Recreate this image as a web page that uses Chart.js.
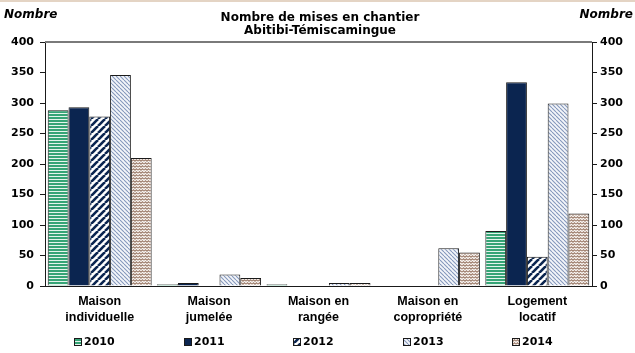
<!DOCTYPE html>
<html>
<head>
<meta charset="utf-8">
<script src="https://cdn.jsdelivr.net/npm/chart.js@4/dist/chart.umd.min.js"></script>
<style>
  html, body { margin: 0; padding: 0; background: #fff; }
  #wrap { position: relative; width: 635px; height: 353px; }
  #topline { position: absolute; left: 0; top: 0; width: 635px; height: 2px; background: #e4d4c4; }
</style>
</head>
<body>
<div id="wrap">
  <canvas id="c" width="635" height="353"></canvas>
  <div id="topline"></div>
</div>
<script>
// Housing starts by type, Abitibi-Témiscamingue
const categories = [
  ['Maison', 'individuelle'],
  ['Maison', 'jumelée'],
  ['Maison en', 'rangée'],
  ['Maison en', 'copropriété'],
  ['Logement', 'locatif']
];
const years = ['2010', '2011', '2012', '2013', '2014'];
const starts2010 = [288, 3, 3, 0, 90];
const starts2011 = [293, 5, 0, 0, 334];
const starts2012 = [278, 1, 0, 0, 48];
const starts2013 = [346, 19, 5, 62, 299];
const starts2014 = [210, 13, 5, 55, 119];
const yTicks = [0, 50, 100, 150, 200, 250, 300, 350, 400];
const titleLines = ['Nombre de mises en chantier', 'Abitibi-Témiscamingue'];
const unitLabel = 'Nombre';

const FONT = '"DejaVu Sans", Verdana, sans-serif';
const LABEL_FONT = '"Liberation Sans", Arial, sans-serif';

function makePattern(w, h, draw) {
  const pc = document.createElement('canvas');
  pc.width = w; pc.height = h;
  const g = pc.getContext('2d');
  draw(g, w, h);
  return document.getElementById('c').getContext('2d').createPattern(pc, 'repeat');
}

// horizontal green stripes
const fill2010 = makePattern(4, 3, (g, w, h) => {
  g.fillStyle = '#e4f4ec'; g.fillRect(0, 0, w, h);
  g.fillStyle = '#35a476'; g.fillRect(0, 0, w, 2);
});
// solid navy
const fill2011 = '#0b2550';
// wide forward diagonal stripes
const fill2012 = makePattern(7, 7, (g, w, h) => {
  g.fillStyle = '#ffffff'; g.fillRect(0, 0, w, h);
  g.strokeStyle = '#0b2550'; g.lineWidth = 2.6;
  for (let k = -1; k <= 1; k++) {
    g.beginPath(); g.moveTo(k * w, h); g.lineTo(k * w + w, 0); g.stroke();
  }
});
// fine backward diagonal stripes
const fill2013 = makePattern(4, 4, (g, w, h) => {
  g.fillStyle = '#f4f6fa'; g.fillRect(0, 0, w, h);
  g.strokeStyle = '#8497bb'; g.lineWidth = 1.1;
  for (let k = -1; k <= 1; k++) {
    g.beginPath(); g.moveTo(k * w, 0); g.lineTo(k * w + w, h); g.stroke();
  }
});
// zigzag
const fill2014 = makePattern(6, 3, (g, w, h) => {
  g.fillStyle = '#fbf8f6'; g.fillRect(0, 0, w, h);
  g.strokeStyle = '#9c7c6a'; g.lineWidth = 1.1;
  g.beginPath(); g.moveTo(0, 2.2); g.lineTo(1.5, 0.8); g.lineTo(3, 2.2); g.lineTo(4.5, 0.8); g.lineTo(6, 2.2); g.stroke();
});

const fills = [fill2010, fill2011, fill2012, fill2013, fill2014];
const seriesValues = [starts2010, starts2011, starts2012, starts2013, starts2014];

const datasets = years.map((y, i) => ({
  label: y,
  data: seriesValues[i],
  backgroundColor: fills[i],
  borderColor: '#1a1a1a',
  borderWidth: 1,
  borderSkipped: 'bottom',
  barPercentage: 1.0,
  categoryPercentage: 0.95
}));

const decorations = {
  id: 'decorations',
  afterDraw(chart) {
    const ctx = chart.ctx;
    const a = chart.chartArea;
    ctx.save();
    // top frame line
    ctx.strokeStyle = '#7a7a7a'; ctx.lineWidth = 2;
    ctx.beginPath(); ctx.moveTo(a.left, a.top); ctx.lineTo(a.right, a.top); ctx.stroke();

    // title
    ctx.fillStyle = '#000';
    ctx.font = 'bold 12px ' + FONT;
    ctx.textAlign = 'center'; ctx.textBaseline = 'middle';
    const cx = 320;
    ctx.fillText(titleLines[0], cx, 18);
    ctx.fillText(titleLines[1], cx, 31);

    // unit labels
    ctx.font = 'italic bold 12px ' + FONT;
    ctx.textAlign = 'left';
    ctx.fillText(unitLabel, 4, 15);
    ctx.textAlign = 'right';
    ctx.fillText(unitLabel, 633, 15);

    // legend
    const xs = chart.scales.x;
    ctx.font = 'bold 11px ' + FONT;
    ctx.textAlign = 'left';
    const ly = 342;
    chart.data.datasets.forEach((ds, i) => {
      const center = xs.getPixelForValue(i) - 5;
      const tw = ctx.measureText(ds.label).width;
      const total = 8 + 2 + tw;
      const bx = Math.round(center - total / 2);
      ctx.fillStyle = ds.backgroundColor;
      ctx.fillRect(bx, ly - 4, 8, 8);
      ctx.strokeStyle = '#1a1a1a'; ctx.lineWidth = 1;
      ctx.strokeRect(bx + 0.5, ly - 3.5, 7, 7);
      ctx.fillStyle = '#000';
      ctx.fillText(ds.label, bx + 10, ly + 0.5);
    });
    ctx.restore();
  }
};

const tickFont = { family: FONT, size: 11, weight: 'bold' };

new Chart(document.getElementById('c'), {
  type: 'bar',
  data: { labels: categories, datasets },
  options: {
    responsive: false,
    animation: false,
    devicePixelRatio: 1,
    layout: { padding: { top: 42, bottom: 19, left: 0, right: 0 } },
    plugins: {
      legend: { display: false },
      title: { display: false },
      tooltip: { enabled: false }
    },
    scales: {
      x: {
        grid: { display: false, drawTicks: false },
        border: { color: '#1a1a1a', width: 1 },
        ticks: { color: '#000', font: { family: LABEL_FONT, size: 12.5, weight: 'bold', lineHeight: 1.28 }, padding: 8, maxRotation: 0, autoSkip: false }
      },
      y: {
        position: 'left',
        min: 0, max: 400,
        afterBuildTicks: s => { s.ticks = yTicks.map(v => ({ value: v })); },
        afterFit: s => { s.width = 45; },
        grid: { drawOnChartArea: false, drawTicks: true, tickLength: 5, color: '#1a1a1a' },
        border: { color: '#1a1a1a', width: 1 },
        ticks: { color: '#000', font: tickFont, padding: 6 }
      },
      y1: {
        position: 'right',
        min: 0, max: 400,
        afterBuildTicks: s => { s.ticks = yTicks.map(v => ({ value: v })); },
        afterFit: s => { s.width = 43; },
        grid: { drawOnChartArea: false, drawTicks: true, tickLength: 5, color: '#1a1a1a' },
        border: { color: '#1a1a1a', width: 1 },
        ticks: { color: '#000', font: tickFont, padding: 3 }
      }
    }
  },
  plugins: [decorations]
});
</script>
</body>
</html>
